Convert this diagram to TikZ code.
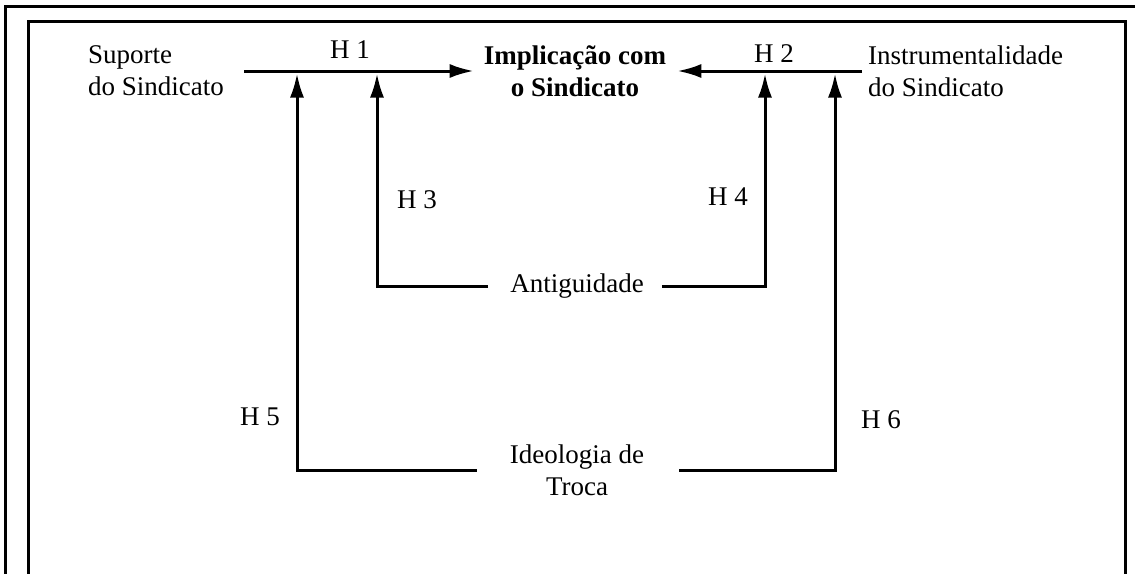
\documentclass[tikz,border=0pt]{standalone}
\usepackage{fontspec}
\setmainfont{Liberation Serif}
\usetikzlibrary{arrows,arrows.meta}
\usetikzlibrary{calc}
\tikzset{>={Latex[length=24pt,width=14pt]}}
\tikzstyle{frame}=[line width=3pt]
\tikzset{
  hyp/.style={line width=3pt,->},
  var/.style={inner sep=0pt,font=\fontsize{27}{32}\selectfont},
  hlab/.style={inner sep=0pt,anchor=base,font=\fontsize{27}{32}\selectfont},
}

\begin{document}
\begin{tikzpicture}[x=1pt,y=-1pt]
  \def\W{1135}                  % width
  \def\H{573}                   % height
  \def\ya{71}                   % level of H 1 and H 2
  \def\yt{73.5}                 % arrow tips below that level
  \useasboundingbox (0,0) rectangle (\W,\H);
  \clip (0,0) rectangle (\W,\H);
  \fill[white] (0,0) rectangle (\W,\H);

  % FRAMES
  \draw[frame] (5,6) rectangle (\W+20,\H+20);
  \draw[frame] (28,21) rectangle (1125,\H+20);

  % VARIABLES
  \node[var,anchor=west,align=left] (sup) at (88,\ya) {Suporte\\do Sindicato};
  \node[var,align=center,font=\fontsize{27}{32}\selectfont\bfseries] (impl) at (575,\ya) {Implicação com\\o Sindicato};
  \node[var,anchor=west,align=left] (inst) at (868,\ya) {Instrumentalidade\\do Sindicato};
  \node[var] (ant) at (577,286) {Antiguidade};
  \node[var,align=center] (ideo) at (577,470) {Ideologia de\\Troca};

  % ARROW TIPS
  \coordinate (h3) at (377,\yt);
  \coordinate (h4) at (765,\yt);
  \coordinate (h5) at (297,\yt);
  \coordinate (h6) at (835,\yt);

  % HYPOTHESES
  \draw[hyp] ([xshift=20pt]sup.east) -- ([xshift=-10pt]impl.west);
  \draw[hyp] ([xshift=-6pt]inst.west) -- ([xshift=11pt]impl.east);
  \draw[hyp] ([xshift=-22pt]ant.west) -| (h3);
  \draw[hyp] ([xshift=18pt]ant.east) -| (h4);
  \draw[hyp] ([xshift=-33pt]ideo.west) -| (h5);
  \draw[hyp] ([xshift=35pt]ideo.east) -| (h6);

  \node[hlab] (l1) at (350,58)  {H 1};
  \node[hlab] (l2) at (774,62)  {H 2};
  \node[hlab] (l3) at (417,208) {H 3};
  \node[hlab] (l4) at (728,205) {H 4};
  \node[hlab] (l5) at (260,425) {H 5};
  \node[hlab] (l6) at (881,428) {H 6};

\end{tikzpicture}
\end{document}
